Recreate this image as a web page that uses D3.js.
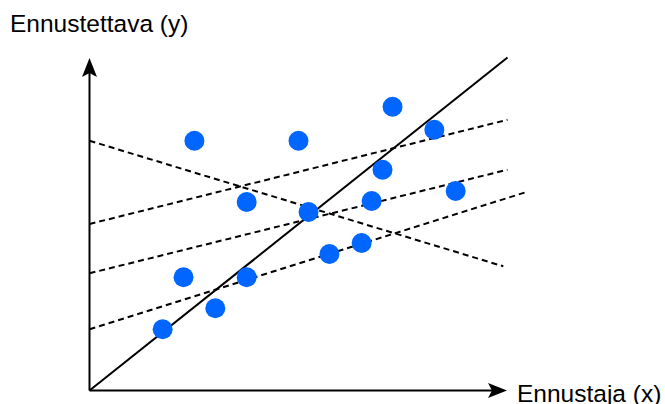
<!DOCTYPE html>
<html><head><meta charset="utf-8">
<script src="https://cdn.jsdelivr.net/npm/d3@7"></script>
<style>html,body{margin:0;padding:0;background:#fff;}svg{display:block;}</style>
</head><body>
<svg id="c" width="665" height="404"></svg>
<script>
// Data (units 0..100 on both axes)
const pointsX = [25.1, 50.0, 72.5, 82.5, 70.1, 37.6, 52.4, 67.5, 87.6, 22.5, 37.6, 57.4, 65.1, 30.1, 17.5];
const pointsY = [75.0, 75.0, 85.2, 78.3, 66.3, 56.6, 53.6, 56.9, 59.9, 34.0, 34.0, 41.0, 44.3, 24.7, 18.4];
const solidLine = [[0, 0], [100, 100]];
const dashedLines = [
  [[0, 75.0], [99.0, 37.3]],
  [[0, 50.0], [100, 81.3]],
  [[0, 35.2], [100, 66.3]],
  [[0, 18.4], [104.5, 59.6]]
];
const xLabel = "Ennustaja (x)";
const yLabel = "Ennustettava (y)";

const svg = d3.select("#c");
const x = d3.scaleLinear().domain([0, 100]).range([89.5, 507.5]);
const y = d3.scaleLinear().domain([0, 100]).range([390.5, 57.5]);
const line = d3.line().x(d => x(d[0])).y(d => y(d[1]));

// dashed lines
svg.append("g").selectAll("path").data(dashedLines).join("path")
  .attr("d", line).attr("fill", "none").attr("stroke", "#000")
  .attr("stroke-width", 2).attr("stroke-dasharray", "6,4");

// solid line
svg.append("path").attr("d", line(solidLine)).attr("fill", "none")
  .attr("stroke", "#000").attr("stroke-width", 2);

// points
svg.append("g").selectAll("circle").data(pointsX.map((v, i) => [v, pointsY[i]])).join("circle")
  .attr("cx", d => x(d[0])).attr("cy", d => y(d[1])).attr("r", 10)
  .attr("fill", "#0066ff");

// axes
const x0 = x(0), y0 = y(0);
const xEnd = 507, yEnd = 58;
svg.append("line").attr("x1", x0).attr("y1", y0).attr("x2", xEnd - 15).attr("y2", y0)
  .attr("stroke", "#000").attr("stroke-width", 2);
svg.append("line").attr("x1", x0).attr("y1", y0).attr("x2", x0).attr("y2", yEnd + 15)
  .attr("stroke", "#000").attr("stroke-width", 2);
// arrowheads
const L = 19, W = 7.5, N = 4;
svg.append("path").attr("d",
  `M${xEnd},${y0} L${xEnd - L},${y0 - W} L${xEnd - L + N},${y0} L${xEnd - L},${y0 + W} Z`)
  .attr("fill", "#000");
svg.append("path").attr("d",
  `M${x0},${yEnd} L${x0 - W},${yEnd + L} L${x0},${yEnd + L - N} L${x0 + W},${yEnd + L} Z`)
  .attr("fill", "#000");

// labels
svg.append("text").attr("x", 10).attr("y", 32).text(yLabel)
  .attr("font-family", "Liberation Sans, Arial, sans-serif").attr("font-size", 24.5).attr("fill", "#000");
svg.append("text").attr("x", 517).attr("y", 401.5).text(xLabel)
  .attr("font-family", "Liberation Sans, Arial, sans-serif").attr("font-size", 24.5).attr("fill", "#000");
</script>
</body></html>
